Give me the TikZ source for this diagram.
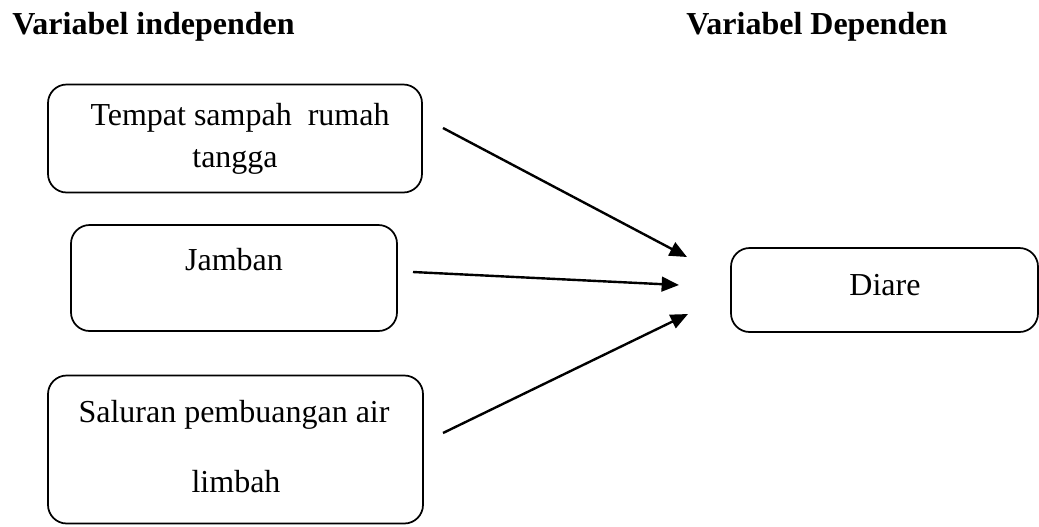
\documentclass[tikz,border=0pt]{standalone}
\usepackage{fontspec}
\setmainfont{Liberation Serif}
\usetikzlibrary{arrows.meta}
\begin{document}
\begin{tikzpicture}[x=0.75pt,y=-0.75pt,
  varbox/.style={draw, line width=1.3pt, rounded corners=14pt, inner sep=0pt},
  lbl/.style={font=\fontsize{24}{28}\selectfont, inner sep=0pt, anchor=center},
  head/.style={font=\fontsize{24}{28}\selectfont\bfseries, inner sep=0pt, anchor=west},
  link/.style={line width=1.8pt, -{Triangle[length=13pt,width=11pt]}}]
\useasboundingbox (0,0) rectangle (1039,526);

% column headings
\node[head] (hind) at (12,27) {Variabel independen};
\node[head] (hdep) at (686,27) {Variabel Dependen};

% independent variables
\node[varbox, minimum width=280.5pt, minimum height=81pt] (b1) at (235,138.5) {};
\node[lbl] (t1a) at (240,118) {Tempat sampah~~rumah};
\node[lbl] (t1b) at (235,162) {tangga};

\node[varbox, minimum width=244.5pt, minimum height=79.5pt] (b2) at (234,278) {};
\node[lbl] (t2) at (234,260) {Jamban};

\node[varbox, minimum width=281.25pt, minimum height=111pt] (b3) at (235.5,449.5) {};
\node[lbl] (t3a) at (234,415) {Saluran pembuangan air};
\node[lbl] (t3b) at (236,482) {limbah};

% dependent variable
\node[varbox, minimum width=230.25pt, minimum height=63pt] (b4) at (884.5,290) {};
\node[lbl] (t4) at (885,285) {Diare};

% arrow ends
\coordinate (s1) at (443,128);
\coordinate (e1) at (687,257);
\coordinate (s2) at (413,272);
\coordinate (e2) at (679,285);
\coordinate (s3) at (443,433);
\coordinate (e3) at (688,314);

\draw[link] (s1) -- (e1);
\draw[link] (s2) -- (e2);
\draw[link] (s3) -- (e3);
\end{tikzpicture}
\end{document}
